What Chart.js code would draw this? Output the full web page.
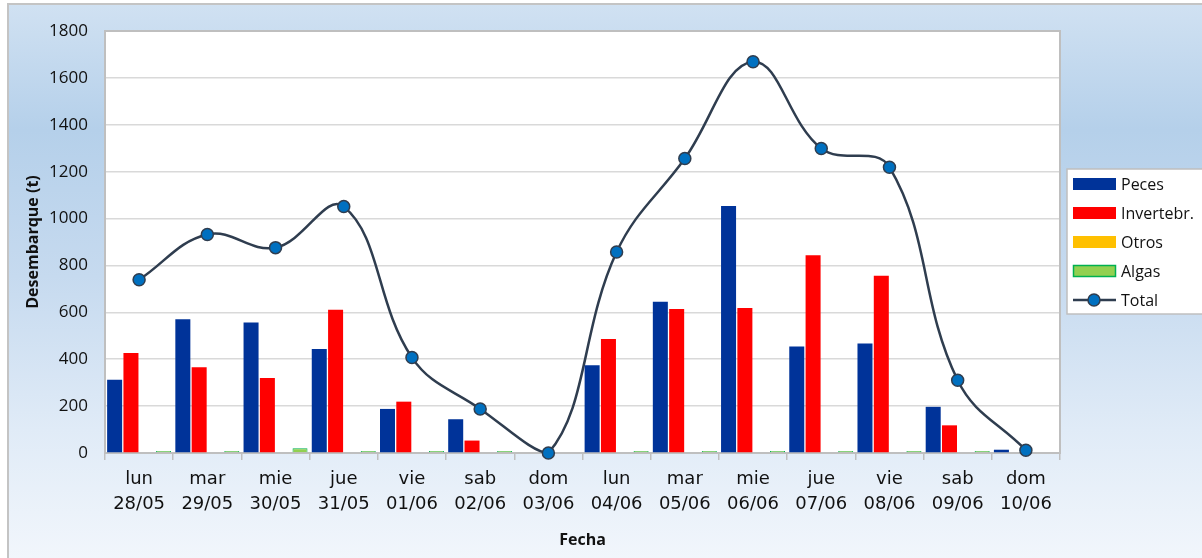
<!DOCTYPE html>
<html>
<head>
<meta charset="utf-8">
<script src="https://cdn.jsdelivr.net/npm/chart.js@4"></script>
<style>
  html, body { margin: 0; padding: 0; }
  body { width: 1202px; height: 558px; overflow: hidden; position: relative; background: #fff; }
  #marco {
    position: absolute; left: 7px; top: 3px; width: 1210px; height: 570px;
    box-sizing: border-box; border: 2px solid #c4c4c4;
    background: linear-gradient(to bottom, #d0e1f2 0%, #b5d0ea 22%, #c6daef 48%, #e0ebf7 75%, #f3f7fc 100%);
  }
  #contenedor { position: absolute; left: 0; top: 0; width: 1202px; height: 558px; }
</style>
</head>
<body>
<div id="marco"></div>
<div id="contenedor"><canvas id="myChart" width="1202" height="558"></canvas></div>
<script>
const dias = ["lun", "mar", "mie", "jue", "vie", "sab", "dom", "lun", "mar", "mie", "jue", "vie", "sab", "dom"];
const fechas = ["28/05", "29/05", "30/05", "31/05", "01/06", "02/06", "03/06", "04/06", "05/06", "06/06", "07/06", "08/06", "09/06", "10/06"];
const peces = [312, 570, 557, 444, 188, 144, 0, 374, 645, 1054, 454, 467, 197, 14];
const invertebrados = [427, 366, 320, 611, 219, 53, 0, 486, 614, 618, 844, 756, 118, 0];
const otros = [0, 0, 0, 0, 0, 0, 0, 0, 0, 0, 0, 0, 0, 0];
const algas = [9, 9, 20, 9, 9, 9, 0, 9, 9, 9, 9, 9, 9, 0];
const total = [739, 932, 876, 1051, 407, 188, 0, 857, 1256, 1669, 1299, 1219, 310, 12];
const ticksY = [0, 200, 400, 600, 800, 1000, 1200, 1400, 1600, 1800];

const etiquetas = dias.map((d, i) => [d, fechas[i]]);
let grapharea = document.getElementById("myChart").getContext("2d");

// fondo blanco y marco del area de trazado
const areaTrazado = {
    id: "areaTrazado",
    beforeDraw(chart) {
        const a = chart.chartArea;
        const ctx = chart.ctx;
        ctx.save();
        ctx.fillStyle = "#ffffff";
        ctx.fillRect(a.left, a.top, a.right - a.left, a.bottom - a.top);
        ctx.restore();
    },
    beforeDatasetsDraw(chart) {
        const a = chart.chartArea;
        const ctx = chart.ctx;
        ctx.save();
        ctx.strokeStyle = "#bfbfbf";
        ctx.lineWidth = 2;
        ctx.strokeRect(a.left, a.top, a.right - a.left, a.bottom - a.top);
        ctx.restore();
    },
};

// leyenda con recuadro, como en Excel
const leyenda = {
    id: "leyenda",
    afterDraw(chart) {
        const ctx = chart.ctx;
        ctx.save();
        ctx.fillStyle = "#ffffff";
        ctx.strokeStyle = "#bfbfbf";
        ctx.lineWidth = 1.5;
        ctx.fillRect(1067, 169, 145, 145);
        ctx.strokeRect(1067, 169, 145, 145);
        ctx.font = "16px 'Open Sans'";
        ctx.textBaseline = "middle";
        chart.data.datasets.forEach((ds, i) => {
            const y = 184 + i * 29;
            if (ds.type === "line") {
                ctx.strokeStyle = ds.borderColor;
                ctx.lineWidth = 2.5;
                ctx.beginPath();
                ctx.moveTo(1073, y);
                ctx.lineTo(1116, y);
                ctx.stroke();
                ctx.beginPath();
                ctx.arc(1094, y, 6, 0, Math.PI * 2);
                ctx.fillStyle = ds.pointBackgroundColor;
                ctx.fill();
                ctx.lineWidth = 1.5;
                ctx.strokeStyle = ds.pointBorderColor;
                ctx.stroke();
            } else {
                ctx.fillStyle = ds.backgroundColor;
                ctx.fillRect(1073, y - 6, 43, 12);
                if (ds.borderWidth) {
                    ctx.strokeStyle = ds.borderColor;
                    ctx.lineWidth = 1.5;
                    ctx.strokeRect(1073.5, y - 5.5, 42, 11);
                }
            }
            ctx.fillStyle = "#111";
            ctx.fillText(ds.label, 1121, y + 1);
        });
        ctx.restore();
    },
};

const data = {
    labels: etiquetas,
    datasets: [
        { label: "Peces", data: peces, backgroundColor: "#003399", borderWidth: 0 },
        { label: "Invertebr.", data: invertebrados, backgroundColor: "#ff0000", borderWidth: 0 },
        { label: "Otros", data: otros, backgroundColor: "#ffc000", borderWidth: 0 },
        { label: "Algas", data: algas, backgroundColor: "#92d050", borderColor: "#00b050", borderWidth: 1, borderSkipped: "start" },
        {
            type: "line",
            label: "Total",
            data: total,
            borderColor: "#2f3d4f",
            borderWidth: 2.5,
            tension: 0.4,
            pointRadius: 6,
            pointBackgroundColor: "#0070c0",
            pointBorderColor: "#2f3d4f",
            pointBorderWidth: 1.5,
            clip: false,
        },
    ],
};

const config = {
    type: "bar",
    data: data,
    plugins: [areaTrazado, leyenda],
    options: {
        responsive: false,
        animation: false,
        categoryPercentage: 0.957,
        barPercentage: 0.92,
        layout: { padding: { top: 31, right: 142, left: 0, bottom: 0 } },
        plugins: { legend: { display: false }, tooltip: { enabled: false } },
        scales: {
            x: {
                offset: true,
                grid: { drawOnChartArea: false, drawTicks: true, tickLength: 7, color: "#bfbfbf", lineWidth: 1.5, offset: true },
                border: { display: false },
                ticks: { color: "#111", padding: 7, maxRotation: 0, autoSkip: false, font: { family: "DejaVu Sans", size: 18, lineHeight: 1.4 } },
                title: { display: true, text: "Fecha", color: "#111", font: { family: "Open Sans", size: 16, weight: "bold" }, padding: { top: 0, bottom: 8 } },
                afterFit: (scale) => { scale.height = 105; },
            },
            y: {
                min: 0,
                max: 1800,
                afterBuildTicks: (scale) => { scale.ticks = ticksY.map((v) => ({ value: v })); },
                grid: { color: "#d9d9d9", lineWidth: 1.5, drawTicks: false },
                border: { display: false },
                ticks: { color: "#111", padding: 17, font: { family: "Open Sans", size: 17 }, callback: (v) => String(v) },
                title: { display: true, text: "Desembarque (t)", color: "#111", font: { family: "Open Sans", size: 16, weight: "bold" }, padding: { top: 24, bottom: 0 } },
                afterFit: (scale) => { scale.width = 105; },
            },
        },
    },
};

let myChart = new Chart(grapharea, config);
</script>
</body>
</html>
